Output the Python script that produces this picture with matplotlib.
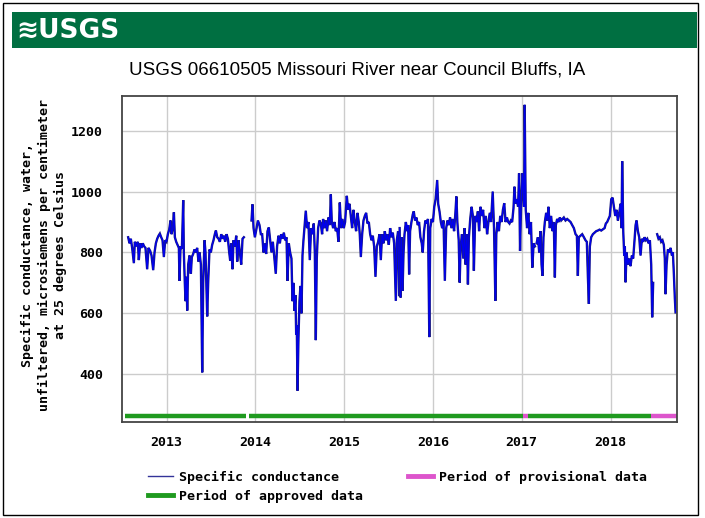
import numpy as np
import matplotlib
matplotlib.use("Agg")
import matplotlib.pyplot as plt
from matplotlib.patches import Rectangle
from matplotlib.lines import Line2D

# ---------------- data (decimal year, microsiemens/cm) ----------------
seg1_t = [2012.568, 2012.583, 2012.598, 2012.613, 2012.632, 2012.643, 2012.662, 2012.677,
          2012.688, 2012.703, 2012.718, 2012.733, 2012.748, 2012.763, 2012.782, 2012.797,
          2012.816, 2012.831, 2012.850, 2012.865, 2012.880, 2012.895, 2012.910, 2012.925,
          2012.940, 2012.955, 2012.970, 2012.985, 2013.000, 2013.015, 2013.030, 2013.045,
          2013.056, 2013.071, 2013.083, 2013.094, 2013.109, 2013.124, 2013.139, 2013.146,
          2013.158, 2013.173, 2013.188, 2013.195, 2013.206, 2013.214, 2013.225, 2013.233,
          2013.244, 2013.259, 2013.274, 2013.285, 2013.300, 2013.315, 2013.330, 2013.345,
          2013.360, 2013.372, 2013.387, 2013.402, 2013.413, 2013.428, 2013.439, 2013.458,
          2013.469, 2013.484, 2013.499, 2013.514, 2013.529, 2013.544, 2013.556, 2013.571,
          2013.586, 2013.601, 2013.616, 2013.631, 2013.646, 2013.661, 2013.676, 2013.691,
          2013.706, 2013.717, 2013.728, 2013.743, 2013.754, 2013.770, 2013.785, 2013.796,
          2013.811, 2013.826, 2013.841, 2013.856, 2013.871]
seg1_v = [850, 830, 845, 815, 765, 835, 820, 835,
          775, 830, 815, 830, 820, 815, 745, 815,
          805, 790, 742, 800, 830, 845, 855, 862,
          850, 840, 785, 840, 835, 860, 875, 905,
          860, 880, 932, 850, 835, 825, 815, 707,
          820, 812, 972, 800, 700, 640, 720, 609,
          760, 790, 730, 785, 795, 810, 800, 815,
          770, 800, 760, 406, 700, 840, 800, 590,
          700, 810, 800, 825, 840, 860, 872, 850,
          845, 835, 860, 845, 855, 835, 860, 845,
          800, 773, 830, 745, 840, 820, 855, 770,
          840, 800, 760, 845, 850]

seg2_t = [2013.957, 2013.968, 2013.980, 2013.995, 2014.014, 2014.029, 2014.047, 2014.062,
          2014.077, 2014.092, 2014.107, 2014.122, 2014.137, 2014.152, 2014.167, 2014.182,
          2014.197, 2014.212, 2014.230, 2014.245, 2014.261, 2014.276, 2014.291, 2014.306,
          2014.321, 2014.336, 2014.351, 2014.362, 2014.377, 2014.392, 2014.407, 2014.418,
          2014.430, 2014.441, 2014.452, 2014.460, 2014.467, 2014.475, 2014.486, 2014.497,
          2014.508, 2014.520, 2014.531, 2014.542, 2014.553, 2014.568, 2014.583, 2014.598,
          2014.613, 2014.628, 2014.643, 2014.658, 2014.670, 2014.681, 2014.692, 2014.707,
          2014.722, 2014.737, 2014.752, 2014.763, 2014.778, 2014.793, 2014.808, 2014.824,
          2014.839, 2014.850, 2014.861, 2014.876, 2014.891, 2014.906, 2014.921, 2014.936,
          2014.951, 2014.966, 2014.981, 2014.996, 2015.011, 2015.030, 2015.045, 2015.060,
          2015.075, 2015.090, 2015.105, 2015.120, 2015.135, 2015.150, 2015.165, 2015.176,
          2015.188, 2015.203, 2015.218, 2015.233, 2015.248, 2015.263, 2015.278, 2015.293,
          2015.308, 2015.323, 2015.338, 2015.353, 2015.368, 2015.383, 2015.398, 2015.413,
          2015.428, 2015.443, 2015.458, 2015.473, 2015.488, 2015.503, 2015.518, 2015.533,
          2015.548, 2015.563, 2015.582, 2015.593, 2015.608, 2015.619]
seg2_v = [905, 958, 880, 850, 880, 905, 890, 860,
          860, 800, 830, 795, 870, 882, 840, 800,
          835, 790, 730, 820, 855, 830, 860, 845,
          865, 840, 850, 707, 830, 800, 780, 640,
          700, 608, 660, 530, 560, 346, 520, 640,
          690, 600, 790, 840, 880, 937, 880, 900,
          775, 880, 860, 895, 800, 512, 780, 880,
          905, 895, 860, 910, 880, 905, 870, 915,
          890, 991, 900, 880, 900, 870, 880, 835,
          964, 880, 910, 880, 900, 986, 940, 960,
          920, 880, 940, 900, 870, 930, 900, 860,
          785, 860, 905, 920, 930, 895, 900, 860,
          840, 855, 820, 720, 820, 835, 860, 775,
          860, 830, 870, 840, 860, 825, 880, 850,
          865, 830, 641, 840, 870, 660]

seg3_t = [2015.625, 2015.636, 2015.647, 2015.658, 2015.669, 2015.680, 2015.695, 2015.710,
          2015.721, 2015.732, 2015.743, 2015.758, 2015.773, 2015.784, 2015.799, 2015.814,
          2015.829, 2015.844, 2015.859, 2015.874, 2015.885, 2015.900, 2015.915, 2015.929,
          2015.944, 2015.959, 2015.970, 2015.985, 2016.000, 2016.015, 2016.030, 2016.048,
          2016.059, 2016.074, 2016.089, 2016.104, 2016.119, 2016.134, 2016.149, 2016.164,
          2016.178, 2016.193, 2016.208, 2016.223, 2016.238, 2016.253, 2016.264, 2016.275,
          2016.290, 2016.301, 2016.312, 2016.327, 2016.342, 2016.357, 2016.368, 2016.383,
          2016.394, 2016.405, 2016.420, 2016.435, 2016.450, 2016.461, 2016.476, 2016.491,
          2016.506, 2016.520, 2016.535, 2016.550, 2016.565, 2016.580, 2016.595, 2016.610,
          2016.625, 2016.640, 2016.654, 2016.673, 2016.688, 2016.703, 2016.714, 2016.729,
          2016.743, 2016.758, 2016.773, 2016.788, 2016.803, 2016.818, 2016.833, 2016.848,
          2016.862, 2016.877, 2016.892, 2016.907, 2016.918, 2016.929, 2016.944, 2016.959,
          2016.970, 2016.981, 2016.993, 2017.007, 2017.019, 2017.026, 2017.033, 2017.045,
          2017.060, 2017.074, 2017.089, 2017.104, 2017.119, 2017.134, 2017.149]
seg3_v = [880, 652, 850, 674, 800, 860, 900, 870,
          890, 728, 870, 900, 925, 935, 905, 915,
          890, 900, 850, 830, 800, 870, 905, 895,
          910, 522, 880, 910, 900, 950, 975, 1038,
          960, 935, 900, 880, 905, 707, 880, 905,
          890, 915, 880, 910, 870, 930, 984, 900,
          840, 701, 820, 860, 780, 880, 760, 860,
          695, 850, 910, 950, 920, 740, 920, 900,
          935, 870, 950, 920, 940, 880, 920, 860,
          900, 930, 900, 1000, 880, 641, 860, 900,
          870, 920, 900, 940, 962, 900, 915, 900,
          895, 905, 900, 945, 1016, 960, 975, 950,
          1060, 805, 960, 1060, 990, 950, 1285, 940,
          880, 930, 860, 900, 750, 830, 820]

seg4_t = [2017.167, 2017.182, 2017.197, 2017.212, 2017.223, 2017.234, 2017.245, 2017.260,
          2017.275, 2017.290, 2017.301, 2017.316, 2017.331, 2017.346, 2017.361, 2017.373,
          2017.384, 2017.399, 2017.414, 2017.429, 2017.444, 2017.459, 2017.474, 2017.493,
          2017.512, 2017.531, 2017.550, 2017.568, 2017.587, 2017.606, 2017.621, 2017.632,
          2017.643, 2017.662, 2017.681, 2017.700, 2017.718, 2017.733, 2017.745, 2017.756,
          2017.767, 2017.782, 2017.801, 2017.820, 2017.839, 2017.857, 2017.876, 2017.895,
          2017.914, 2017.933, 2017.947, 2017.962, 2017.977, 2017.992, 2018.008, 2018.023,
          2018.038, 2018.053, 2018.068, 2018.083, 2018.098, 2018.113, 2018.124, 2018.131,
          2018.143, 2018.154, 2018.161, 2018.169, 2018.180, 2018.195, 2018.210, 2018.225,
          2018.240, 2018.255, 2018.270, 2018.282, 2018.293, 2018.308, 2018.323, 2018.338,
          2018.353, 2018.368, 2018.383, 2018.398, 2018.413, 2018.428, 2018.443, 2018.458,
          2018.469, 2018.480]
seg4_v = [830, 850, 800, 870, 760, 723, 850, 900,
          930, 905, 950, 880, 920, 870, 900, 718,
          890, 910, 900, 915, 905, 910, 915, 905,
          910, 905, 900, 890, 880, 860, 855, 723,
          850, 855, 860, 850, 840, 835, 720, 631,
          820, 850, 860, 865, 870, 872, 875, 872,
          876, 880, 895, 900, 910, 920, 975, 980,
          950, 920, 940, 905, 930, 960, 880, 1100,
          870, 790, 820, 702, 800, 760, 780, 755,
          790, 780, 840, 890, 905, 870, 850, 790,
          845, 835, 850, 840, 845, 830, 840, 760,
          587, 700]

seg5_t = [2018.525, 2018.540, 2018.555, 2018.570, 2018.585, 2018.600, 2018.611, 2018.619,
          2018.631, 2018.646, 2018.661, 2018.676, 2018.691, 2018.702, 2018.713, 2018.724,
          2018.732]
seg5_v = [860, 845, 850, 835, 840, 825, 780, 663,
          760, 810, 800, 815, 790, 800, 730, 650,
          603]

# Data-approval periods (decimal year start, end)
approved_periods = [(2012.535, 2013.891), (2013.925, 2017.013), (2017.069, 2018.455)]
provisional_periods = [(2017.013, 2017.069), (2018.455, 2018.745)]
period_bar_level = 264

year_ticks = [2013, 2014, 2015, 2016, 2017, 2018]
y_ticks = [400, 600, 800, 1000, 1200]

title = "USGS 06610505 Missouri River near Council Bluffs, IA"
ylabel = ("Specific conductance, water,\n"
          "unfiltered, microsiemens per centimeter\n"
          "at 25 degrees Celsius")

# ---------------- figure ----------------
W, H = 705, 518
fig = plt.figure(figsize=(W / 100, H / 100), dpi=100)
fig.patch.set_facecolor("white")

mono = ["DejaVu Sans Mono"]

# outer frame
fig.add_artist(Rectangle((3 / W, 1 - 515 / H), 695 / W, 512 / H, transform=fig.transFigure,
                         fill=False, edgecolor="black", linewidth=1.0))
# USGS banner
fig.add_artist(Rectangle((12 / W, 1 - 48 / H), 685 / W, 36 / H, transform=fig.transFigure,
                         facecolor="#006f41", edgecolor="none"))
fig.text(16 / W, 1 - 31 / H, "≋USGS", color="white", fontsize=19, fontweight="bold",
         family=["Liberation Sans Narrow", "DejaVu Sans"], va="center", ha="left")

fig.text(357 / W, 1 - 70 / H, title, ha="center", va="center", fontsize=13.5,
         family=["Liberation Sans Narrow", "Liberation Sans", "DejaVu Sans"])

ax = fig.add_axes([122.3 / W, 1 - 422 / H, (676.7 - 122.3) / W, (422 - 95.7) / H])

NAVY = "#1a1a80"
BLUE = "#0000ee"
for t, v in [(seg1_t, seg1_v), (seg2_t, seg2_v), (seg3_t, seg3_v), (seg4_t, seg4_v), (seg5_t, seg5_v)]:
    ax.plot(t, v, color=NAVY, linewidth=1.7, solid_joinstyle="miter")
    ax.plot(t, v, color=BLUE, linewidth=0.9, solid_joinstyle="miter")

GREEN = "#1f9a1f"
PINK = "#dd55cc"
for a, b in approved_periods:
    ax.plot([a, b], [period_bar_level, period_bar_level], color=GREEN, linewidth=3.2,
            solid_capstyle="butt")
for a, b in provisional_periods:
    ax.plot([a, b], [period_bar_level, period_bar_level], color=PINK, linewidth=3.2,
            solid_capstyle="butt")

ax.set_xlim(2012.502, 2018.745)
ax.set_ylim(243, 1315)
ax.set_xticks(year_ticks)
ax.set_xticklabels([str(y) for y in year_ticks])
ax.set_yticks(y_ticks)
ax.grid(True, color="#cccccc", linewidth=1.0)
ax.set_axisbelow(True)
ax.tick_params(length=0, labelsize=9.5)
ax.tick_params(axis="y", pad=14)
ax.tick_params(axis="x", pad=10)
for lab in ax.get_xticklabels() + ax.get_yticklabels():
    lab.set_family(mono)
    lab.set_fontweight("bold")
for s in ax.spines.values():
    s.set_color("#444444")
    s.set_linewidth(1.3)

fig.text(44 / W, 1 - 255 / H, ylabel, rotation=90, ha="center", va="center",
         family=mono, fontweight="bold", fontsize=9.5, linespacing=1.35)

handles = [Line2D([], [], color="#333399", linewidth=1.0),
           Line2D([], [], color=GREEN, linewidth=3.5),
           Line2D([], [], color=PINK, linewidth=3.5)]
labels = ["Specific conductance", "Period of approved data", "Period of provisional data"]
leg = fig.legend(handles, labels, ncol=2, loc="upper left",
                 bbox_to_anchor=(148 / W, 1 - 471 / H), frameon=False,
                 prop={"family": mono, "weight": "bold", "size": 9.5},
                 handlelength=1.9, handletextpad=0.45, columnspacing=3.4,
                 labelspacing=0.45, borderpad=0, borderaxespad=0)

fig.savefig("out.png", dpi=100, facecolor="white")
